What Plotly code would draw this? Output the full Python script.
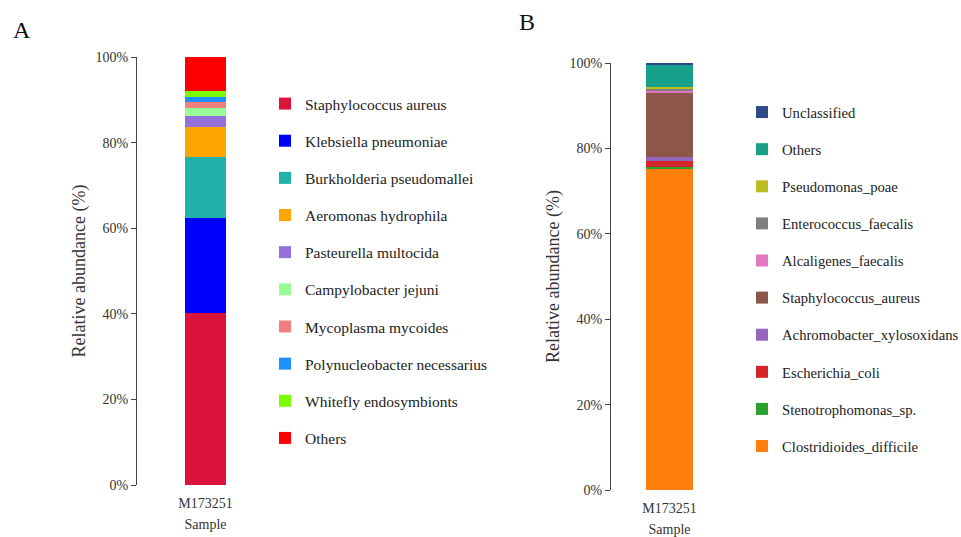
import plotly.graph_objects as go

sample = ["M173251"]

# Panel A (bottom of stack first)
a_names = ["Staphylococcus aureus", "Klebsiella pneumoniae", "Burkholderia pseudomallei",
           "Aeromonas hydrophila", "Pasteurella multocida", "Campylobacter jejuni",
           "Mycoplasma mycoides", "Polynucleobacter necessarius", "Whitefly endosymbionts", "Others"]
a_values = [40.2, 22.2, 14.2, 7.0, 2.6, 1.8, 1.6, 1.1, 1.4, 7.9]
a_colors = ["#DC143C", "#0000FF", "#20B2AA", "#FFA500", "#9370DB", "#98FB98",
            "#F08080", "#1E90FF", "#7CFC00", "#FF0000"]

# Panel B (bottom of stack first)
b_names = ["Clostridioides_difficile", "Stenotrophomonas_sp.", "Escherichia_coli",
           "Achromobacter_xylosoxidans", "Staphylococcus_aureus", "Alcaligenes_faecalis",
           "Enterococcus_faecalis", "Pseudomonas_poae", "Others", "Unclassified"]
b_values = [75.2, 0.4, 1.4, 0.9, 15.1, 0.5, 0.3, 0.6, 5.1, 0.5]
b_colors = ["#FF7F0E", "#2CA02C", "#D62728", "#9467BD", "#8C564B", "#E377C2",
            "#7F7F7F", "#BCBD22", "#17A08A", "#2E4A87"]

y_ticks = [0, 20, 40, 60, 80, 100]
y_ticktext = ["0%", "20%", "40%", "60%", "80%", "100%"]

FONT = "Liberation Serif, Times New Roman, serif"

fig = go.Figure()
for i, (n, v, c) in enumerate(zip(a_names, a_values, a_colors)):
    fig.add_trace(go.Bar(x=sample, y=[v], name=n, marker_color=c, width=0.3,
                         xaxis="x", yaxis="y", legend="legend", legendgroup="a%d" % i,
                         legendrank=100 + i, marker_line_width=0))
for i, (n, v, c) in enumerate(zip(b_names, b_values, b_colors)):
    fig.add_trace(go.Bar(x=sample, y=[v], name=n, marker_color=c, width=0.4,
                         xaxis="x2", yaxis="y2", legend="legend2", legendgroup="b%d" % i,
                         legendrank=200 - i, marker_line_width=0))

W, H = 961, 537
ax_common = dict(range=[0, 100], tickmode="array", tickvals=y_ticks, ticktext=y_ticktext,
                 showgrid=False, showline=True, linecolor="#444", linewidth=1.2, ticks="outside",
                 ticklen=5, tickcolor="#444", tickfont=dict(size=14, color="#333", family=FONT),
                 zeroline=False, title_font=dict(size=18, color="#333", family=FONT),
                 title_standoff=5)
xa_common = dict(showline=False, showgrid=False, ticks="", ticklabelstandoff=8,
                 tickfont=dict(size=14, color="#333", family=FONT),
                 title_font=dict(size=14, color="#333", family=FONT), title_standoff=9)

fig.update_layout(
    width=W, height=H, margin=dict(l=0, r=0, t=0, b=0, autoexpand=False),
    paper_bgcolor="white", plot_bgcolor="white", barmode="stack",
    font=dict(family=FONT, color="#222"),
    xaxis=dict(domain=[137 / W, 274 / W], anchor="y", title_text="Sample", **xa_common),
    yaxis=dict(domain=[(H - 485) / H, (H - 57) / H], anchor="x",
               title_text="Relative abundance (%)", **ax_common),
    xaxis2=dict(domain=[611 / W, 728 / W], anchor="y2", title_text="Sample", **xa_common),
    yaxis2=dict(domain=[(H - 490) / H, (H - 63) / H], anchor="x2",
                title_text="Relative abundance (%)", **ax_common),
    legend=dict(x=265 / W, y=1 - 87 / H, xanchor="left", yanchor="top",
                traceorder="grouped", tracegroupgap=14,
                font=dict(size=15.5, color="#222", family=FONT), bgcolor="rgba(0,0,0,0)"),
    legend2=dict(x=742 / W, y=1 - 96 / H, xanchor="left", yanchor="top",
                 traceorder="grouped", tracegroupgap=15,
                 font=dict(size=14.7, color="#222", family=FONT), bgcolor="rgba(0,0,0,0)"),
    annotations=[
        dict(text="A", x=22 / W, y=1 - 30 / H, xref="paper", yref="paper", showarrow=False,
             xanchor="center", yanchor="middle",
             font=dict(size=24, color="#111", family=FONT)),
        dict(text="B", x=527 / W, y=1 - 22 / H, xref="paper", yref="paper", showarrow=False,
             xanchor="center", yanchor="middle",
             font=dict(size=24, color="#111", family=FONT)),
    ],
)

fig.write_html("out.html")
